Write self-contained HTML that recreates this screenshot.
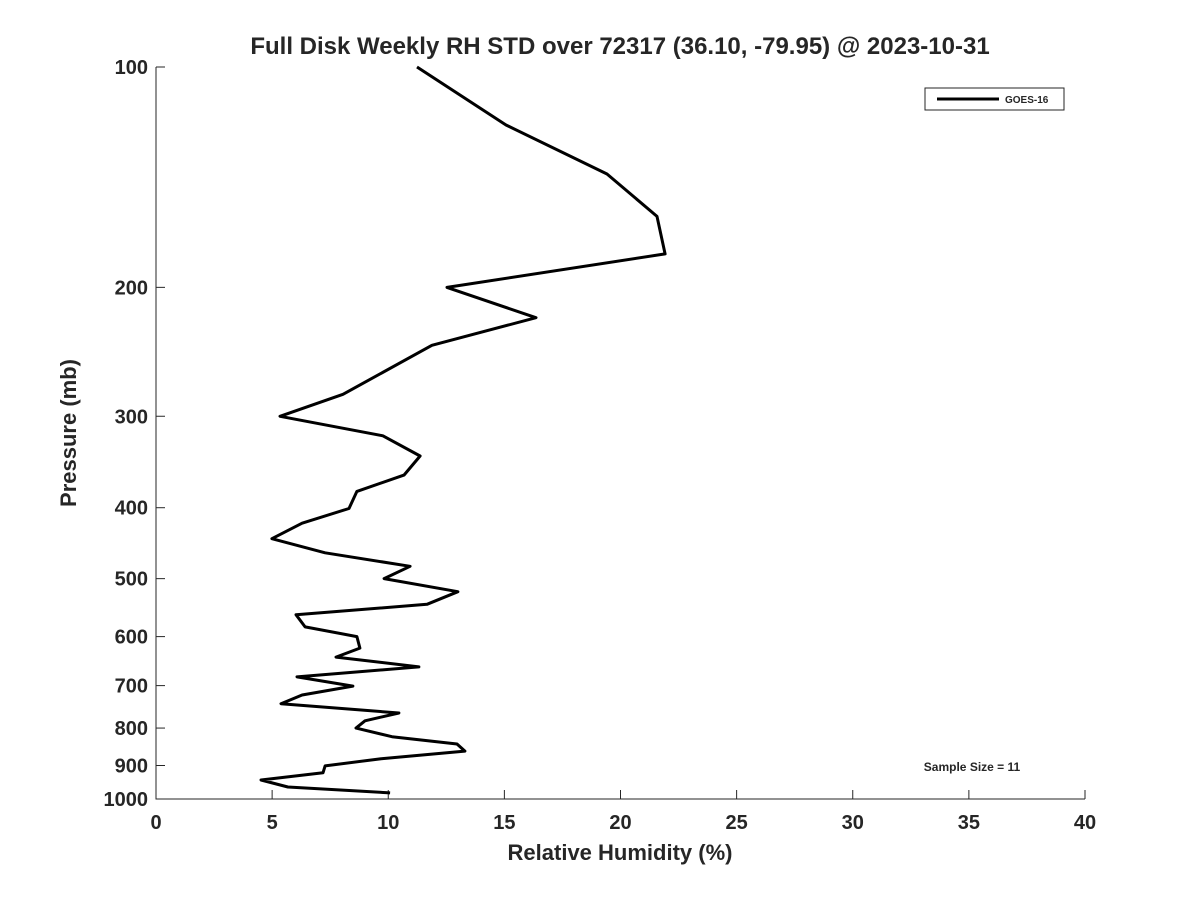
<!DOCTYPE html>
<html><head><meta charset="utf-8"><style>
body{margin:0;background:#fff;font-family:"Liberation Sans",sans-serif}
text{font-family:"Liberation Sans",sans-serif;font-weight:bold;fill:#262626}
</style></head><body>
<svg id="chart" width="1200" height="900" xmlns="http://www.w3.org/2000/svg">
<rect width="1200" height="900" fill="#fff"/>
<g id="axes"></g>
<text x="620" y="54" text-anchor="middle" font-size="24" fill="#000">Full Disk Weekly RH STD over 72317 (36.10, -79.95) @ 2023-10-31</text>
<text x="620" y="860" text-anchor="middle" font-size="22">Relative Humidity (%)</text>
<text transform="translate(76,433) rotate(-90)" text-anchor="middle" font-size="22">Pressure (mb)</text>
<g>
<rect x="925" y="88" width="139" height="22" fill="#fff" stroke="#262626" stroke-width="1"/>
<line x1="937" y1="99" x2="999" y2="99" stroke="#000" stroke-width="3"/>
<text x="1005" y="103" font-size="10" fill="#000">GOES-16</text>
</g>
<text x="972" y="771" text-anchor="middle" font-size="12" fill="#000">Sample Size = 11</text>
</svg>
<script>
const rh=[11.24,15.07,19.42,21.57,21.92,12.53,16.36,11.88,8.05,5.34,9.77,11.37,10.68,8.65,8.31,6.29,4.99,7.28,10.94,9.82,13.0,11.67,6.03,6.42,8.65,8.78,7.75,11.32,6.07,8.48,6.29,5.38,10.46,9.0,8.61,10.16,12.96,13.3,9.69,7.28,7.19,4.52,5.68,10.08];
const pressure=[100,120,140,160,180,200,220,240,280,300,319,340,361,380,401,420,441,461,481,500,521,542,560,582,600,622,640,660,681,701,721,741,763,782,800,822,841,860,881,901,921,942,963,981];
const xTicks=[0,5,10,15,20,25,30,35,40];
const yTicks=[100,200,300,400,500,600,700,800,900,1000];
const NS="http://www.w3.org/2000/svg";
const L=156,R=1085,T=67,B=799;
const xs=v=>L+(v-0)/(40-0)*(R-L);
const ys=p=>T+Math.log10(p/100)*(B-T);
const g=document.getElementById('axes');
function mk(t,a){const e=document.createElementNS(NS,t);for(const k in a)e.setAttribute(k,a[k]);return e;}
let ax=mk('path',{d:`M${L},${T}V${B}H${R}`,fill:'none',stroke:'#262626','stroke-width':1});


g.appendChild(ax);
xTicks.forEach(v=>{const x=xs(v);
const tk=mk('line',{x1:x,x2:x,y1:B,y2:B-9,stroke:'#262626'});


g.appendChild(tk);
const t=mk('text',{x:x,y:B+30,'text-anchor':'middle','font-size':20});t.textContent=v;


g.appendChild(t);});
yTicks.forEach(p=>{const y=ys(p);
const tk=mk('line',{x1:L,x2:L+9,y1:y,y2:y,stroke:'#262626'});


g.appendChild(tk);
const t=mk('text',{x:L-8,y:y+7,'text-anchor':'end','font-size':20});t.textContent=p;


g.appendChild(t);});
const pts=rh.map((v,i)=>xs(v).toFixed(1)+','+ys(pressure[i]).toFixed(1)).join(' ');
const line=mk('polyline',{points:pts,fill:'none',stroke:'#000','stroke-width':3,'stroke-linejoin':'round'});


g.appendChild(line);
</script>
</body></html>
